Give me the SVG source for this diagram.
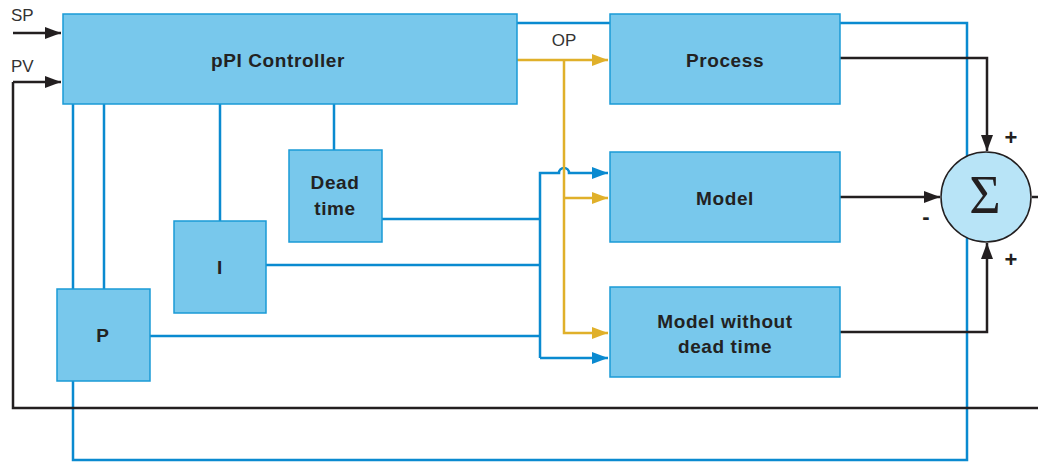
<svg xmlns="http://www.w3.org/2000/svg" width="1038" height="462" viewBox="0 0 1038 462">
<defs>
<marker id="ab" markerWidth="16" markerHeight="12" refX="16" refY="6" orient="auto" markerUnits="userSpaceOnUse"><path d="M0,0 L16,6 L0,12 z" fill="#0a8ad0"/></marker>
<marker id="ay" markerWidth="16" markerHeight="12" refX="16" refY="6" orient="auto" markerUnits="userSpaceOnUse"><path d="M0,0 L16,6 L0,12 z" fill="#e0b02a"/></marker>
<marker id="ak" markerWidth="16" markerHeight="12" refX="16" refY="6" orient="auto" markerUnits="userSpaceOnUse"><path d="M0,0 L16,6 L0,12 z" fill="#231f20"/></marker>
</defs>
<style>
.box{fill:#78c8ec;stroke:#1a9ad6;stroke-width:1.5}
.lbl{font-family:"Liberation Sans",Arial,sans-serif;font-weight:bold;font-size:19px;letter-spacing:0.6px;fill:#222;text-anchor:middle}
.sig{font-family:"Liberation Sans",Arial,sans-serif;font-size:17px;fill:#333}
.blue{fill:none;stroke:#0a8ad0;stroke-width:2.5}
.yel{fill:none;stroke:#e0b02a;stroke-width:2.5}
.blk{fill:none;stroke:#231f20;stroke-width:2.5}
.pm{font-family:"Liberation Sans",Arial,sans-serif;font-weight:bold;font-size:22px;fill:#231f20;text-anchor:middle}
</style>
<g id="connectors">
<path class="blue" d="M517,23 H967 V460 H73 V381"/>
<path class="blk" d="M13,82 V408 H1038"/>
<path class="blk" d="M13,82 H61" marker-end="url(#ak)"/>
<path class="blk" d="M13,33 H61" marker-end="url(#ak)"/>
<path class="blue" d="M73,104 V289 M104,104 V289 M220,104 V221 M334,104 V150"/>
<path class="blue" d="M382,219 H540 M266,265 H540 M150,336 H540"/>
<path class="blue" d="M540,358 V173 H559 A5,5 0 0 1 569,173 H608" marker-end="url(#ab)"/>
<path class="blue" d="M540,358 H608" marker-end="url(#ab)"/>
<path class="yel" d="M517,60 H608" marker-end="url(#ay)"/>
<path class="yel" d="M564,60 V333 H608" marker-end="url(#ay)"/>
<path class="yel" d="M564,198 H608" marker-end="url(#ay)"/>
<path class="blk" d="M840,58 H987 V151" marker-end="url(#ak)"/>
<path class="blk" d="M840,197 H940" marker-end="url(#ak)"/>
<path class="blk" d="M840,332 H987 V243" marker-end="url(#ak)"/>
<path class="blk" d="M1032,197 H1038"/>
</g>
<text class="sig" x="11" y="21">SP</text>
<text class="sig" x="11" y="72">PV</text>
<text class="sig" x="564" y="46" text-anchor="middle">OP</text>
<g id="controller"><rect class="box" x="63" y="14" width="454" height="90"/><text class="lbl" x="278" y="67">pPI Controller</text></g>
<g id="process"><rect class="box" x="610" y="14" width="230" height="90"/><text class="lbl" x="725" y="67">Process</text></g>
<g id="model"><rect class="box" x="610" y="152" width="230" height="90"/><text class="lbl" x="725" y="205">Model</text></g>
<g id="model-no-dt"><rect class="box" x="610" y="287" width="230" height="90"/><text class="lbl" x="725" y="328">Model without</text><text class="lbl" x="725" y="353">dead time</text></g>
<g id="deadtime"><rect class="box" x="289" y="150" width="93" height="92"/><text class="lbl" x="335" y="189">Dead</text><text class="lbl" x="335" y="215">time</text></g>
<g id="i-block"><rect class="box" x="174" y="221" width="92" height="92"/><text class="lbl" x="220" y="274">I</text></g>
<g id="p-block"><rect class="box" x="57" y="289" width="93" height="92"/><text class="lbl" x="103" y="342">P</text></g>
<g id="sum">
<circle cx="986" cy="197" r="45" fill="#b8e4f7" stroke="#231f20" stroke-width="1.5"/>
<text x="985" y="213" font-family="'Liberation Serif','Times New Roman',serif" font-size="54" fill="#231f20" text-anchor="middle">Σ</text>
<text class="pm" x="1011" y="145">+</text>
<text class="pm" x="926" y="224">-</text>
<text class="pm" x="1011" y="267">+</text>
</g>
</svg>
